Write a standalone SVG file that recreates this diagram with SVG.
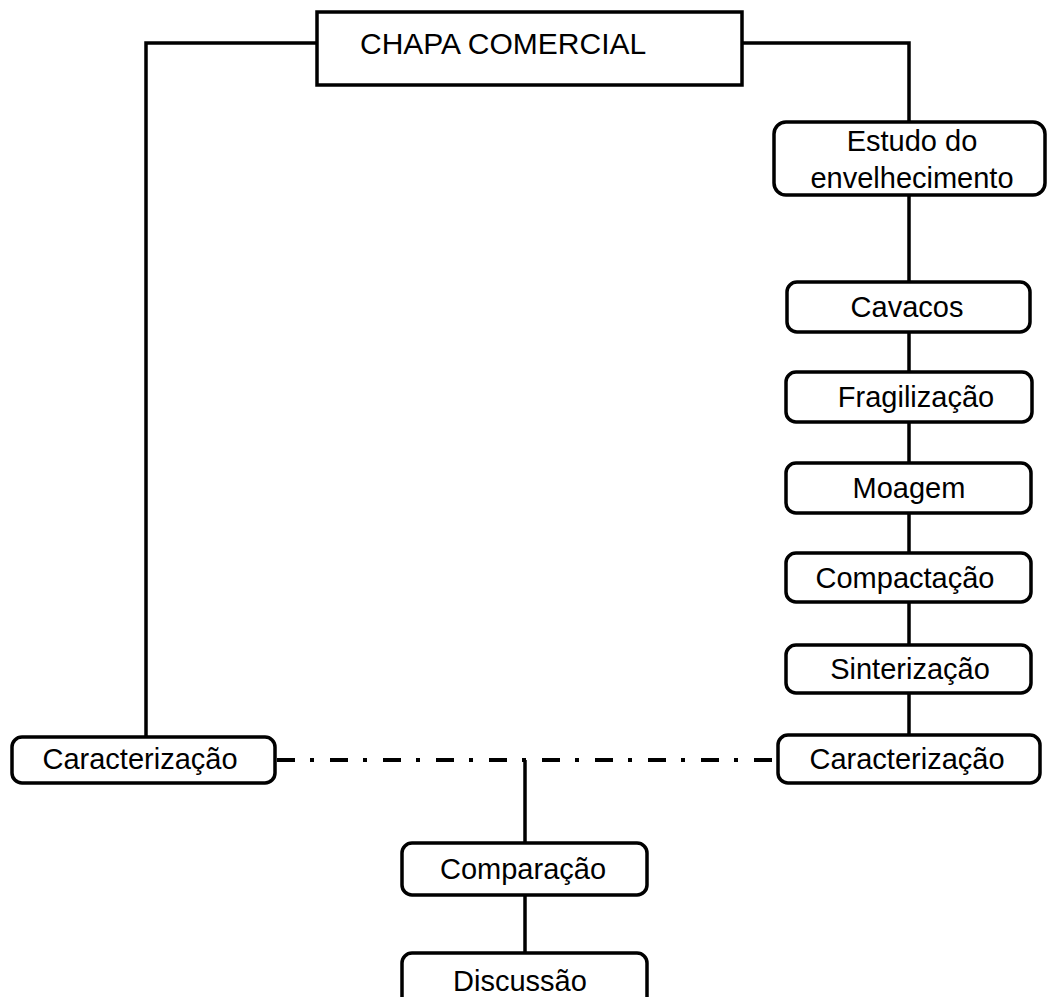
<svg xmlns="http://www.w3.org/2000/svg" width="1047" height="997" viewBox="0 0 1047 997">
<style>
.box{fill:#fff;stroke:#000;stroke-width:3.5}
.ln{fill:none;stroke:#000;stroke-width:3.5}
.dd{fill:none;stroke:#000;stroke-width:4;stroke-dasharray:18 15 4 16}
text{font-family:"Liberation Sans",Arial,sans-serif;font-size:29px;fill:#000;text-anchor:middle}
</style>
<rect width="1047" height="997" fill="#fff"/>
<g id="connectors">
<path class="ln" d="M317 43 H146 V737"/>
<path class="ln" d="M742 43 H909 V122"/>
<path class="ln" d="M909 195 V282"/>
<path class="ln" d="M909 332 V372"/>
<path class="ln" d="M909 422 V463"/>
<path class="ln" d="M909 513 V553"/>
<path class="ln" d="M909 602 V645"/>
<path class="ln" d="M909 693 V735"/>
<path class="dd" d="M277 760 H778"/>
<path class="ln" d="M525 760 V843"/>
<path class="ln" d="M525 895 V953"/>
</g>
<g id="chapa">
<rect class="box" x="317" y="12" width="425" height="73"/>
<text x="360" y="54" style="text-anchor:start;font-size:30px">CHAPA COMERCIAL</text>
</g>
<g id="estudo">
<rect class="box" x="774" y="122" width="271" height="73" rx="12"/>
<text x="912" y="151">Estudo do</text>
<text x="912" y="188">envelhecimento</text>
</g>
<g id="cavacos">
<rect class="box" x="787" y="282" width="243" height="50" rx="10"/>
<text x="907" y="317">Cavacos</text>
</g>
<g id="fragilizacao">
<rect class="box" x="786" y="372" width="246" height="50" rx="10"/>
<text x="916" y="407">Fragilização</text>
</g>
<g id="moagem">
<rect class="box" x="786" y="463" width="245" height="50" rx="10"/>
<text x="909" y="498">Moagem</text>
</g>
<g id="compactacao">
<rect class="box" x="786" y="553" width="245" height="49" rx="10"/>
<text x="905" y="588">Compactação</text>
</g>
<g id="sinterizacao">
<rect class="box" x="786" y="645" width="245" height="48" rx="10"/>
<text x="910" y="679">Sinterização</text>
</g>
<g id="caracterizacao-dir">
<rect class="box" x="778" y="735" width="262" height="48" rx="10"/>
<text x="907" y="769">Caracterização</text>
</g>
<g id="caracterizacao-esq">
<rect class="box" x="12" y="737" width="263" height="46" rx="10"/>
<text x="140" y="769">Caracterização</text>
</g>
<g id="comparacao">
<rect class="box" x="402" y="843" width="245" height="52" rx="10"/>
<text x="523" y="879">Comparação</text>
</g>
<g id="discussao">
<rect class="box" x="402" y="953" width="245" height="60" rx="10"/>
<text x="520" y="991">Discussão</text>
</g>
</svg>
